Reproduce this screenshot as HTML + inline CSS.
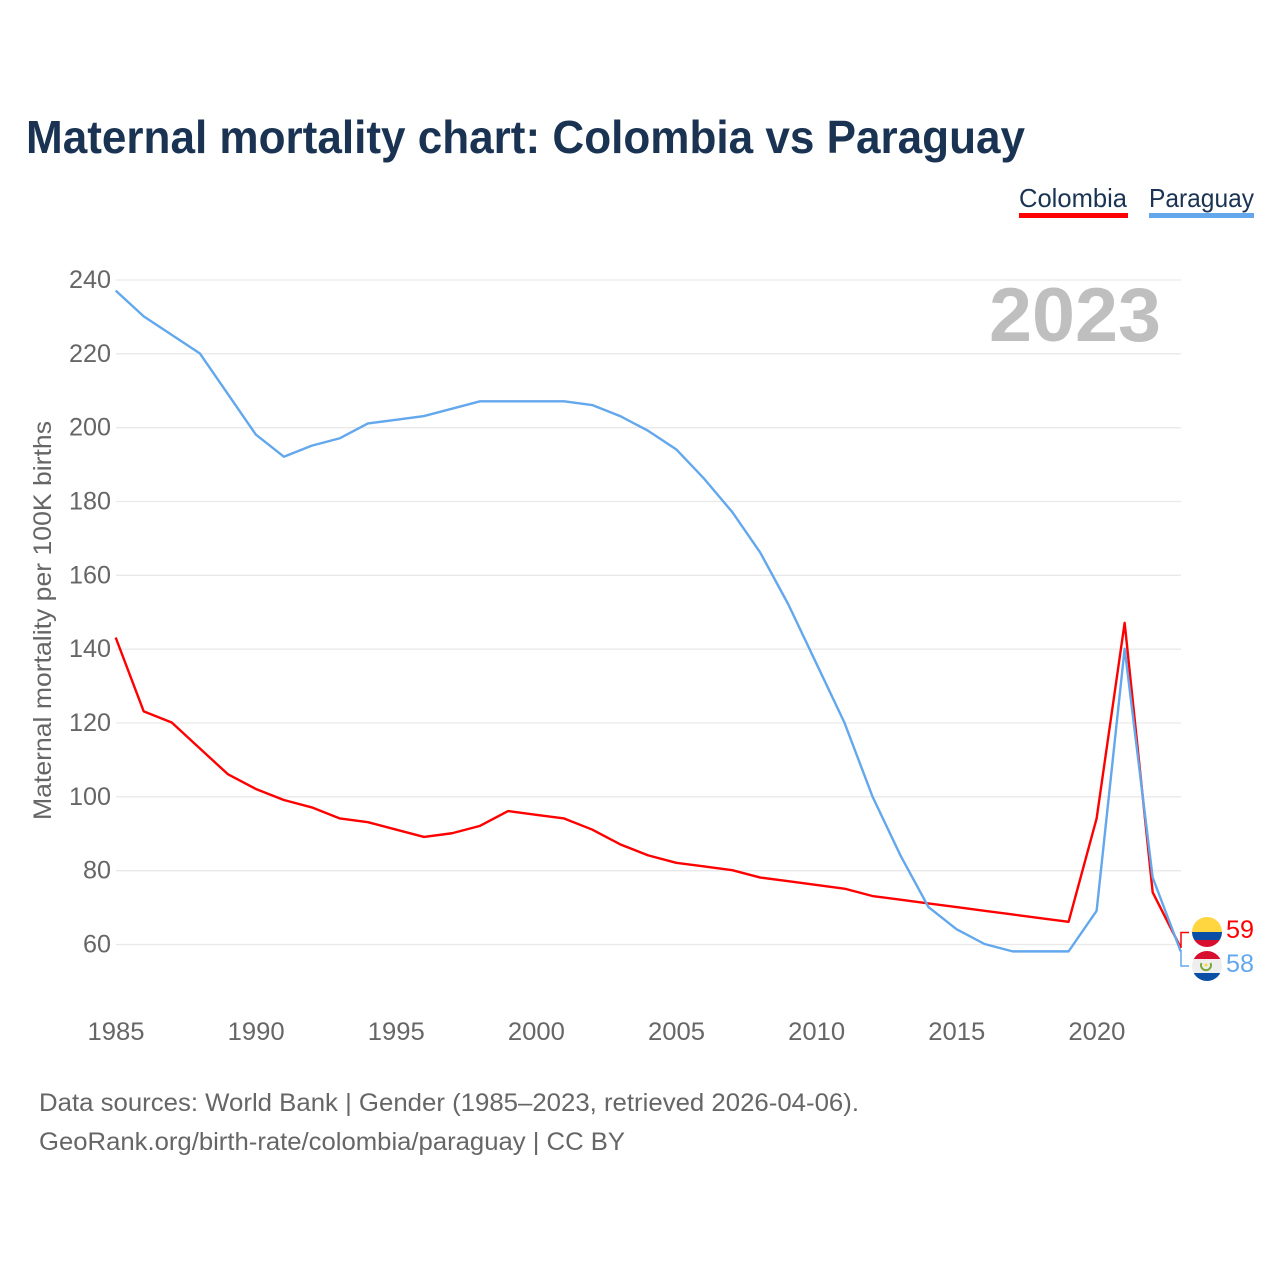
<!DOCTYPE html>
<html lang="en">
<head>
<meta charset="utf-8">
<title>Maternal mortality chart: Colombia vs Paraguay</title>
<style>
html,body{margin:0;padding:0;background:#fff;width:1280px;height:1280px;overflow:hidden}
svg{display:block}
text{font-family:"Liberation Sans",sans-serif}
</style>
</head>
<body>
<svg id="chart" xmlns="http://www.w3.org/2000/svg" width="1280" height="1280" viewBox="0 0 1280 1280">
  <rect x="0" y="0" width="1280" height="1280" fill="#fff"/>
  <text x="26" y="153" font-size="46" font-weight="700" fill="#1a3353" textLength="999" lengthAdjust="spacingAndGlyphs">Maternal mortality chart: Colombia vs Paraguay</text>

  <g id="grid"></g>
  <text x="989" y="341" font-size="76" font-weight="700" fill="#bfbfbf" textLength="172" lengthAdjust="spacingAndGlyphs">2023</text>
  <g id="yticks"></g>
  <g id="xticks"></g>
  <text transform="translate(51,820) rotate(-90)" font-size="25" fill="#666" textLength="399" lengthAdjust="spacingAndGlyphs">Maternal mortality per 100K births</text>
  <g id="series" transform="translate(-0.3,-0.5)"></g>

  <g>
    <text x="1019" y="207" font-size="26" fill="#1a3353" textLength="108" lengthAdjust="spacingAndGlyphs">Colombia</text>
    <rect x="1019" y="213" width="109" height="5" fill="#ff0000"/>
  </g>
  <g>
    <text x="1149" y="207" font-size="26" fill="#1a3353" textLength="105" lengthAdjust="spacingAndGlyphs">Paraguay</text>
    <rect x="1149" y="213" width="105" height="5" fill="#63a7ed"/>
  </g>

  <defs>
    <clipPath id="clip-co"><circle cx="1207" cy="932" r="15"/></clipPath>
    <clipPath id="clip-py"><circle cx="1207" cy="966" r="15"/></clipPath>
  </defs>
  <polyline id="bracket-co" fill="none" stroke="#ff0000" stroke-width="1.5" points="1189,932.5 1181,932.5 1181,948"/>
  <polyline id="bracket-py" fill="none" stroke="#63a7ed" stroke-width="1.5" points="1181,950 1181,966 1189,966"/>
  <g clip-path="url(#clip-co)">
    <rect x="1192" y="917" width="30" height="15" fill="#ffd63f"/>
    <rect x="1192" y="932" width="30" height="8" fill="#0a4ea6"/>
    <rect x="1192" y="940" width="30" height="8" fill="#d80f2f"/>
  </g>
  <g clip-path="url(#clip-py)">
    <rect x="1192" y="951" width="30" height="9" fill="#d80f2f"/>
    <rect x="1192" y="959" width="30" height="15" fill="#eeeeee"/>
    <rect x="1192" y="973" width="30" height="9" fill="#0a4ea6"/>
    <path d="M1201.5,963 A5,5 0 1 0 1210.5,963" fill="none" stroke="#7aa83a" stroke-width="2"/>
    <circle cx="1206" cy="965" r="1.5" fill="#ffd63f"/>
  </g>
  <text x="1226" y="938" font-size="25" fill="#ff0000" textLength="28" lengthAdjust="spacingAndGlyphs">59</text>
  <text x="1226" y="972" font-size="25" fill="#63a7ed" textLength="28" lengthAdjust="spacingAndGlyphs">58</text>

  <text x="39" y="1111" font-size="25" fill="#666" textLength="820" lengthAdjust="spacingAndGlyphs">Data sources: World Bank | Gender (1985–2023, retrieved 2026-04-06).</text>
  <text x="39" y="1150" font-size="25" fill="#666" textLength="586" lengthAdjust="spacingAndGlyphs">GeoRank.org/birth-rate/colombia/paraguay | CC BY</text>
</svg>
<script>
const years = [1985,1986,1987,1988,1989,1990,1991,1992,1993,1994,1995,1996,1997,1998,1999,2000,2001,2002,2003,2004,2005,2006,2007,2008,2009,2010,2011,2012,2013,2014,2015,2016,2017,2018,2019,2020,2021,2022,2023];
const colombiaValues = [143,123,120,113,106,102,99,97,94,93,91,89,90,92,96,95,94,91,87,84,82,81,80,78,77,76,75,73,72,71,70,69,68,67,66,94,147,74,59];
const paraguayValues = [237,230,225,220,209,198,192,195,197,201,202,203,205,207,207,207,207,206,203,199,194,186,177,166,152,136,120,100,84,70,64,60,58,58,58,69,140,78,58];
const yTickValues = [60,80,100,120,140,160,180,200,220,240];
const xTickValues = [1985,1990,1995,2000,2005,2010,2015,2020];

const NS = 'http://www.w3.org/2000/svg';
function xScale(year) { return 116 + (year - 1985) * (1181 - 116) / (2023 - 1985); }
function yScale(value) { return 944.5 + (value - 60) * (280 - 944.5) / (240 - 60); }
function make(tag, attrs) {
  const el = document.createElementNS(NS, tag);
  for (const k in attrs) el.setAttribute(k, attrs[k]);
  return el;
}
const gridGroup = document.getElementById('grid');
const yTickGroup = document.getElementById('yticks');
const xTickGroup = document.getElementById('xticks');
const seriesGroup = document.getElementById('series');

yTickValues.forEach(function (v) {
  const line = make('line', {x1: 116, x2: 1181, y1: yScale(v), y2: yScale(v), stroke: '#e9e9e9', 'stroke-width': 1.3});
  
  
  gridGroup.appendChild(line);
  const text = String(v);
  const w = text.length * 14;
  const label = make('text', {x: 111 - w, y: yScale(v) + 8, 'font-size': 25, fill: '#666', textLength: w, lengthAdjust: 'spacingAndGlyphs'});
  
  
  label.textContent = text;
  yTickGroup.appendChild(label);
});
xTickValues.forEach(function (v) {
  const label = make('text', {x: xScale(v) - 28.5, y: 1040, 'font-size': 25, fill: '#666', textLength: 57, lengthAdjust: 'spacingAndGlyphs'});
  
  
  label.textContent = String(v);
  xTickGroup.appendChild(label);
});
function pointsFor(values) {
  return values.map(function (v, i) { return xScale(years[i]).toFixed(2) + ',' + yScale(v).toFixed(2); }).join(' ');
}
const colombiaLine = make('polyline', {points: pointsFor(colombiaValues), fill: 'none', stroke: '#ff0000', 'stroke-width': 2.4, 'stroke-linejoin': 'round'});


seriesGroup.appendChild(colombiaLine);
const paraguayLine = make('polyline', {points: pointsFor(paraguayValues), fill: 'none', stroke: '#63a7ed', 'stroke-width': 2.4, 'stroke-linejoin': 'round'});


seriesGroup.appendChild(paraguayLine);
</script>
</body>
</html>
